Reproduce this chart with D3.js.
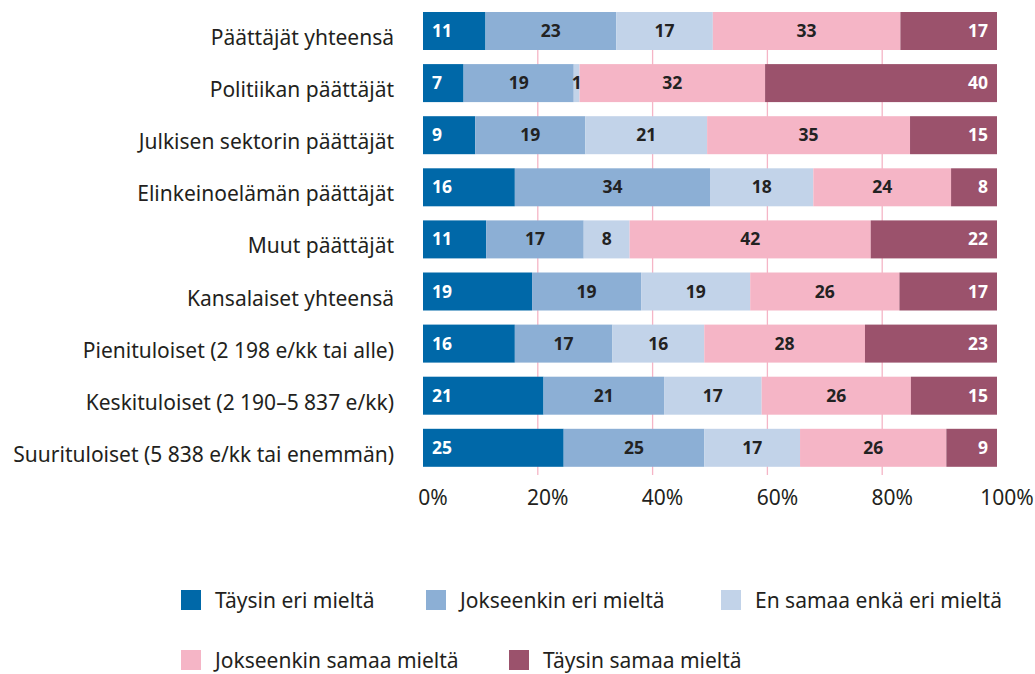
<!DOCTYPE html>
<html>
<head>
<meta charset="utf-8">
<script src="https://cdn.jsdelivr.net/npm/d3@7"></script>
<style>
  body { margin: 0; background: #fff; }
  svg { display: block; font-family: "Noto Sans", "Open Sans", sans-serif; }
</style>
</head>
<body>
<script>
// --- data ---
const categories = [
  "Päättäjät yhteensä",
  "Politiikan päättäjät",
  "Julkisen sektorin päättäjät",
  "Elinkeinoelämän päättäjät",
  "Muut päättäjät",
  "Kansalaiset yhteensä",
  "Pienituloiset (2 198 e/kk tai alle)",
  "Keskituloiset (2 190–5 837 e/kk)",
  "Suurituloiset (5 838 e/kk tai enemmän)"
];
const seriesNames = [
  "Täysin eri mieltä",
  "Jokseenkin eri mieltä",
  "En samaa enkä eri mieltä",
  "Jokseenkin samaa mieltä",
  "Täysin samaa mieltä"
];
const taysinEri = [11, 7, 9, 16, 11, 19, 16, 21, 25];
const jokseenkinEri = [23, 19, 19, 34, 17, 19, 17, 21, 25];
const enSamaa = [17, 1, 21, 18, 8, 19, 16, 17, 17];
const jokseenkinSamaa = [33, 32, 35, 24, 42, 26, 28, 26, 26];
const taysinSamaa = [17, 40, 15, 8, 22, 17, 23, 15, 9];
const xTicks = [0, 20, 40, 60, 80, 100];

const colors = ["#0068a8", "#8cafd5", "#c2d3e9", "#f5b5c6", "#9b526c"];
const labelColors = ["#fff", "#222", "#222", "#222", "#fff"];

const allSeries = [taysinEri, jokseenkinEri, enSamaa, jokseenkinSamaa, taysinSamaa];

// rows: each value normalised by its row total
const rows = categories.map((c, i) => {
  const vals = allSeries.map(s => s[i]);
  const total = d3.sum(vals);
  let acc = 0;
  const segs = vals.map((v, k) => {
    const x0 = acc / total * 100;
    acc += v;
    return { cat: c, k, v, x0, x1: acc / total * 100 };
  });
  return segs;
});

const W = 1035, H = 674;
const svg = d3.select("body").append("svg")
  .attr("width", W).attr("height", H);

const x = d3.scaleLinear().domain([0, 100]).range([423, 997]);
const y = d3.scaleBand().domain(categories)
  .range([4.95, 4.95 + 9 * 52.1])
  .paddingInner(0.2706).paddingOuter(0.1353);

// gridlines
svg.append("g").selectAll("line")
  .data(xTicks.filter(t => t > 0 && t < 100))
  .join("line")
  .attr("x1", d => x(d)).attr("x2", d => x(d))
  .attr("y1", 12).attr("y2", 475)
  .attr("stroke", "#f5b5c6").attr("stroke-width", 1.3);

// bars
const rowG = svg.append("g").selectAll("g")
  .data(rows).join("g");

rowG.selectAll("rect")
  .data(d => d)
  .join("rect")
  .attr("x", d => x(d.x0))
  .attr("width", d => x(d.x1) - x(d.x0))
  .attr("y", d => y(d.cat))
  .attr("height", y.bandwidth())
  .attr("fill", d => colors[d.k]);

rowG.selectAll("text")
  .data(d => d)
  .join("text")
  .attr("x", d => d.k === 0 ? x(d.x0) + 9 : d.k === 4 ? x(d.x1) - 9 : (x(d.x0) + x(d.x1)) / 2)
  .attr("y", d => y(d.cat) + y.bandwidth() / 2 + 6)
  .attr("text-anchor", d => d.k === 0 ? "start" : d.k === 4 ? "end" : "middle")
  .attr("fill", d => labelColors[d.k])
  .attr("font-size", 17.5)
  .attr("font-weight", "bold")
  .text(d => d.v);

// category labels
svg.append("g").selectAll("text")
  .data(categories)
  .join("text")
  .attr("x", 394)
  .attr("y", d => y(d) + y.bandwidth() / 2 + 14)
  .attr("text-anchor", "end")
  .attr("fill", "#231f20")
  .attr("font-size", 21)
  .text(d => d);

// x tick labels
svg.append("g").selectAll("text")
  .data(xTicks)
  .join("text")
  .attr("x", d => x(d) + 10)
  .attr("y", 505)
  .attr("text-anchor", "middle")
  .attr("fill", "#231f20")
  .attr("font-size", 21)
  .text(d => d + "%");

// legend
const legendPos = [[181, 600], [426, 600], [721, 600], [181, 660], [509, 660]];
const leg = svg.append("g").selectAll("g")
  .data(seriesNames)
  .join("g")
  .attr("transform", (d, i) => `translate(${legendPos[i][0]},${legendPos[i][1]})`);
leg.append("rect")
  .attr("x", 0).attr("y", -10)
  .attr("width", 20).attr("height", 20)
  .attr("fill", (d, i) => colors[i]);
leg.append("text")
  .attr("x", 34).attr("y", 8)
  .attr("fill", "#231f20")
  .attr("font-size", 21)
  .text(d => d);
</script>
</body>
</html>
